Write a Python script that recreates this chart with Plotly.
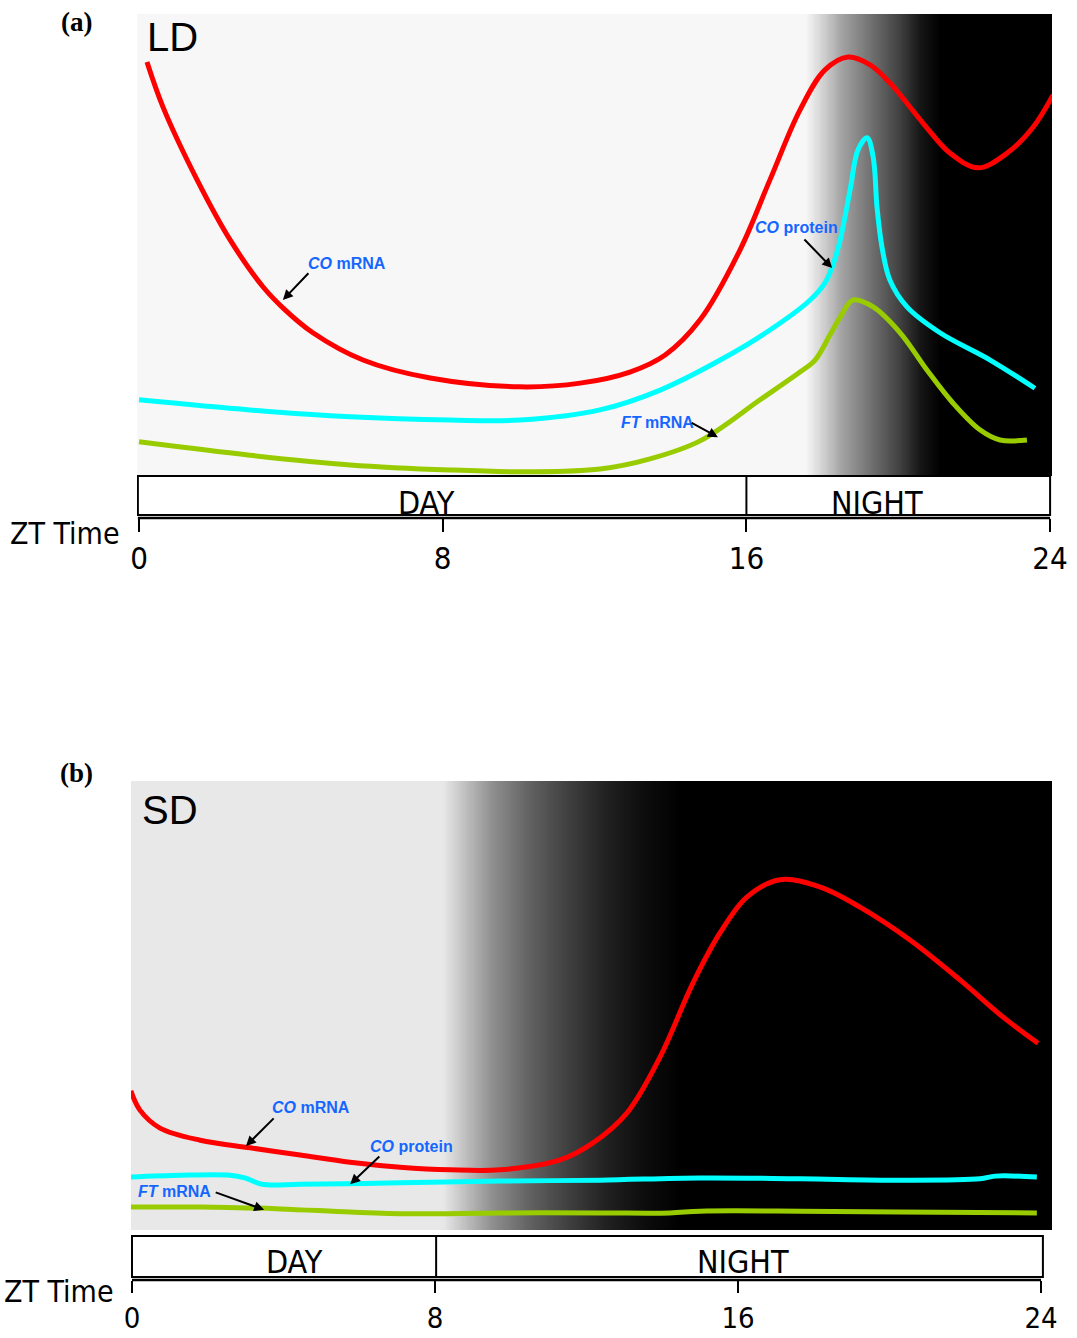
import numpy as np
import plotly.graph_objects as go

W, H = 1077, 1338

# ---------------- Panel (a): LD ----------------
ld_co_mrna_x = [0.21, 0.63, 1.53, 2.40, 3.27, 3.79, 4.58, 5.90, 7.67, 10.04, 11.62, 12.93, 13.86, 14.78, 15.83, 16.62, 17.41, 18.07, 18.68, 19.26, 19.78, 20.65, 21.36, 22.10, 22.87, 23.55, 24.08]
ld_co_mrna_y = [89.6, 79.9, 64.1, 51.1, 40.9, 36.4, 31.0, 25.1, 21.2, 19.3, 20.1, 22.5, 26.2, 33.8, 48.9, 64.1, 79.2, 87.9, 90.7, 89.0, 85.1, 76.4, 69.9, 66.7, 69.9, 75.5, 82.5]

ld_co_prot_x = [0.0, 2.92, 5.56, 8.19, 10.04, 12.14, 13.73, 15.31, 16.62, 17.68, 18.07, 18.28, 18.47, 18.73, 18.94, 19.18, 19.34, 19.44, 19.57, 19.78, 20.23, 21.10, 22.42, 23.60]
ld_co_prot_y = [16.5, 14.3, 12.8, 12.1, 12.1, 14.3, 18.6, 25.1, 31.6, 38.1, 41.8, 45.7, 51.1, 61.9, 70.6, 73.2, 69.0, 58.2, 49.6, 42.4, 36.6, 31.0, 25.1, 19.0]

ld_ft_mrna_x = [0.0, 2.92, 5.56, 8.19, 10.30, 12.14, 13.46, 14.78, 16.36, 17.41, 17.81, 18.20, 18.47, 18.81, 19.34, 20.05, 20.76, 21.44, 22.15, 22.68, 23.39]
ld_ft_mrna_y = [7.4, 4.5, 2.4, 1.3, 0.9, 1.5, 3.7, 7.6, 16.5, 22.5, 25.1, 30.5, 34.4, 38.1, 36.6, 31.0, 22.9, 15.8, 10.0, 7.8, 7.8]

# ---------------- Panel (b): SD ----------------
sd_co_mrna_x = [-0.03, 0.21, 0.74, 1.80, 3.12, 4.44, 5.76, 7.08, 8.40, 9.72, 11.30, 12.17, 13.07, 13.94, 14.81, 15.52, 16.24, 17.11, 18.16, 19.22, 20.54, 21.86, 23.00, 23.92]
sd_co_mrna_y = [31.0, 26.7, 22.7, 20.0, 18.3, 16.7, 15.1, 14.0, 13.4, 13.4, 15.6, 19.4, 26.1, 38.5, 55.0, 66.1, 74.2, 78.0, 76.4, 71.9, 64.6, 55.7, 47.4, 41.6]

sd_co_prot_x = [-0.03, 1.27, 2.59, 2.98, 3.43, 4.44, 7.08, 9.72, 12.36, 15.00, 17.64, 20.28, 22.39, 22.79, 23.89]
sd_co_prot_y = [11.8, 12.2, 12.2, 11.6, 10.2, 10.2, 10.5, 10.9, 11.1, 11.6, 11.4, 11.1, 11.4, 12.0, 11.8]

sd_ft_mrna_x = [-0.03, 1.80, 3.91, 5.76, 7.34, 9.72, 12.36, 14.20, 15.00, 17.64, 20.28, 23.89]
sd_ft_mrna_y = [5.1, 5.1, 4.7, 4.0, 3.6, 3.8, 3.8, 3.8, 4.2, 4.2, 4.0, 3.8]

tick_vals = [0, 8, 16, 24]
tick_text = ["0", "8", "16", "24"]

RED, CYAN, GREEN = "#ff0000", "#00ffff", "#99cc00"
BLUE = "#1466ff"
NARROW = "DejaVu Sans Condensed, Liberation Sans Narrow, Liberation Sans, Arial"
SANS = "Liberation Sans, Arial"


def px(x):
    return x / W


def py(y):
    return 1 - y / H


# background light->dark ramps (style only)
ld_bg_stops_x = [-0.2, 17.55, 18.0, 18.5, 19.2, 20.0, 20.6, 21.1, 24.5]
ld_bg_stops_v = [0.97, 0.97, 0.82, 0.64, 0.46, 0.26, 0.08, 0.0, 0.0]
sd_bg_stops_x = [-0.2, 8.2, 8.6, 9.5, 10.5, 11.5, 12.5, 13.5, 14.5, 24.5]
sd_bg_stops_v = [0.91, 0.91, 0.80, 0.56, 0.38, 0.25, 0.13, 0.05, 0.0, 0.0]

fig = go.Figure()


def add_bg(stx, stv, xr, xa, ya):
    gx = np.linspace(xr[0] - 0.1, xr[1] + 0.1, 400)
    gv = np.interp(gx, stx, stv)
    fig.add_trace(go.Heatmap(
        x=gx, y=[-1, 101], z=[gv, gv], zmin=0, zmax=1,
        colorscale=[[0, "black"], [1, "white"]], showscale=False,
        zsmooth="best", hoverinfo="skip", xaxis=xa, yaxis=ya))


xr_a = [-0.053, 24.05]
xr_b = [-0.026, 24.29]
add_bg(ld_bg_stops_x, ld_bg_stops_v, xr_a, "x", "y")
add_bg(sd_bg_stops_x, sd_bg_stops_v, xr_b, "x2", "y2")

for xs, ys, col, xa, ya in [
    (ld_co_mrna_x, ld_co_mrna_y, RED, "x", "y"),
    (ld_co_prot_x, ld_co_prot_y, CYAN, "x", "y"),
    (ld_ft_mrna_x, ld_ft_mrna_y, GREEN, "x", "y"),
    (sd_co_mrna_x, sd_co_mrna_y, RED, "x2", "y2"),
    (sd_co_prot_x, sd_co_prot_y, CYAN, "x2", "y2"),
    (sd_ft_mrna_x, sd_ft_mrna_y, GREEN, "x2", "y2"),
]:
    fig.add_trace(go.Scatter(x=xs, y=ys, mode="lines",
                             line=dict(color=col, width=5, shape="spline", smoothing=1.0),
                             showlegend=False, hoverinfo="skip", xaxis=xa, yaxis=ya))

axis_common = dict(tickvals=tick_vals, ticktext=tick_text, ticks="outside",
                   tickwidth=2, tickcolor="black", showgrid=False, zeroline=False,
                   showline=False, automargin=False, anchor="free")

fig.update_layout(
    width=W, height=H, margin=dict(l=0, r=0, t=0, b=0, autoexpand=False),
    paper_bgcolor="white", plot_bgcolor="white", showlegend=False,
    xaxis=dict(domain=[px(137), px(1052)], range=xr_a, position=py(518), ticklen=13,
               tickfont=dict(family=NARROW, size=31, color="black"), **axis_common),
    yaxis=dict(domain=[py(476), py(14)], range=[0, 100], visible=False),
    xaxis2=dict(domain=[px(131), px(1052)], range=xr_b, position=py(1280), ticklen=12,
                tickfont=dict(family=NARROW, size=29, color="black"), **axis_common),
    yaxis2=dict(domain=[py(1230), py(781)], range=[0, 100], visible=False, anchor="x2"),
)

shapes = []
# Panel (a) DAY/NIGHT box and axis line
shapes += [
    dict(type="rect", xref="x", yref="paper", x0=-0.03, x1=24.0, y0=py(515), y1=py(476),
         line=dict(color="black", width=2), fillcolor="white"),
    dict(type="line", xref="x", yref="paper", x0=16, x1=16, y0=py(515), y1=py(476),
         line=dict(color="black", width=2)),
    dict(type="line", xref="x", yref="paper", x0=-0.03, x1=24.0, y0=py(518), y1=py(518),
         line=dict(color="black", width=2.5)),
]
# Panel (b)
shapes += [
    dict(type="rect", xref="x2", yref="paper", x0=0, x1=24.05, y0=py(1277), y1=py(1236),
         line=dict(color="black", width=2), fillcolor="white"),
    dict(type="line", xref="x2", yref="paper", x0=8.03, x1=8.03, y0=py(1277), y1=py(1236),
         line=dict(color="black", width=2)),
    dict(type="line", xref="x2", yref="paper", x0=0, x1=24.0, y0=py(1280), y1=py(1280),
         line=dict(color="black", width=2.5)),
]
fig.update_layout(shapes=shapes)

ann = []


def txt(text, x, y, xref, yref, font, xanchor="center", yanchor="middle"):
    ann.append(dict(text=text, x=x, y=y, xref=xref, yref=yref, showarrow=False,
                    xanchor=xanchor, yanchor=yanchor, font=font))


serif = dict(family="Liberation Serif, Times New Roman", size=27, color="black")
txt("<b>(a)</b>", px(76), py(22), "paper", "paper", serif)
txt("<b>(b)</b>", px(76), py(773), "paper", "paper", serif)
txt("LD", px(145), py(37), "paper", "paper", dict(family=SANS, size=40, color="black"), xanchor="left")
txt("SD", px(140), py(810), "paper", "paper", dict(family=SANS, size=40, color="black"), xanchor="left")
zt_font = dict(family=NARROW, size=30, color="black")
txt("ZT Time", px(122), py(533), "paper", "paper", zt_font, xanchor="right")
txt("ZT Time", px(116), py(1291), "paper", "paper", zt_font, xanchor="right")
dn_font = dict(family=NARROW, size=32, color="black")
txt("DAY", 7.56, py(503), "x", "paper", dn_font)
txt("NIGHT", 19.45, py(503), "x", "paper", dn_font)
txt("DAY", 4.28, py(1262), "x2", "paper", dn_font)
txt("NIGHT", 16.13, py(1262), "x2", "paper", dn_font)

lab_font = dict(family=SANS, size=16, color=BLUE)
# labels with arrows: (text, tx, ty, tail_x, tail_y, tip_x, tip_y, xref, yref)
labels = [
    ("<b><i>CO</i> mRNA</b>", 5.48, 46.1, 4.50, 44.2, 3.79, 38.1, "x", "y"),
    ("<b><i>CO</i> protein</b>", 17.33, 53.7, 17.49, 51.5, 18.26, 45.0, "x", "y"),
    ("<b><i>FT</i> mRNA</b>", 13.67, 11.5, 14.52, 11.7, 15.25, 8.4, "x", "y"),
    ("<b><i>CO</i> mRNA</b>", 4.73, 27.2, 3.78, 25.2, 3.01, 18.7, "x2", "y2"),
    ("<b><i>CO</i> protein</b>", 7.39, 18.7, 6.57, 16.7, 5.76, 10.2, "x2", "y2"),
    ("<b><i>FT</i> mRNA</b>", 1.11, 8.5, 2.17, 8.5, 3.49, 4.5, "x2", "y2"),
]
for t, tx, ty, ax_, ay_, hx, hy, xr, yr in labels:
    txt(t, tx, ty, xr, yr, lab_font)
    ann.append(dict(text="", x=hx, y=hy, xref=xr, yref=yr, ax=ax_, ay=ay_, axref=xr, ayref=yr,
                    showarrow=True, arrowhead=2, arrowsize=1, arrowwidth=2, arrowcolor="black"))
fig.update_layout(annotations=ann)

fig.write_html("out.html")
